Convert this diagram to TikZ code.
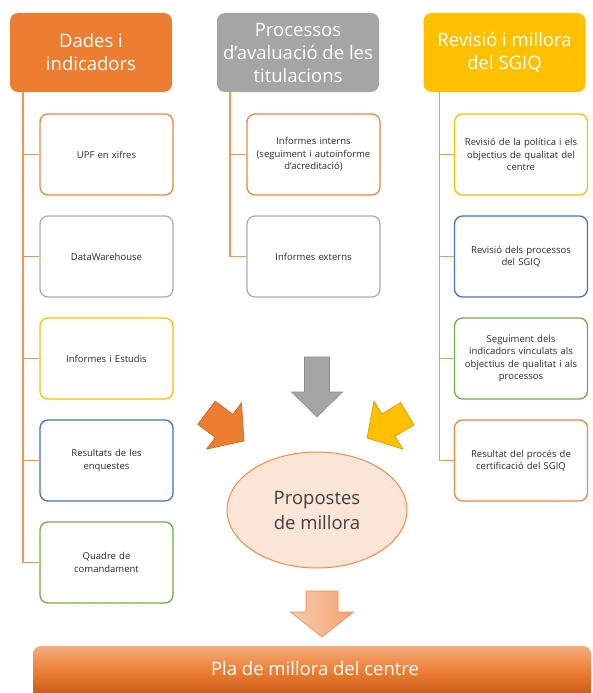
\documentclass[tikz,border=0pt]{standalone}
\usepackage{fontspec}
\setmainfont{Open Sans}
\usepackage{tikz}
\usetikzlibrary{shapes,positioning}
\definecolor{dadesorange}{HTML}{ED7D31}
\definecolor{procgray}{HTML}{A5A5A5}
\definecolor{sgiqyellow}{HTML}{FFC000}
\definecolor{itemorange}{HTML}{EF8444}
\definecolor{itemgray}{HTML}{ADADAD}
\definecolor{itemblue}{HTML}{4472C4}
\definecolor{itemgreen}{HTML}{70AD47}
\definecolor{treeline}{HTML}{F29657}
\definecolor{itemtext}{HTML}{2B2B2B}
\definecolor{darktext}{HTML}{404040}
\definecolor{ellipsefill}{HTML}{FBE5D6}
\definecolor{ellipseline}{HTML}{F08A4B}
\definecolor{arrowlight}{HTML}{F8CBAD}
\definecolor{arrowdark}{HTML}{F4A474}
\definecolor{bartop}{HTML}{F4AC7C}
\definecolor{barbottom}{HTML}{C5591A}
\newcommand{\fatarrow}[6]{\draw[bigarrow,#1,shift={#2},rotate=#3] (0,0) -- (-25,#6) -- (-25,#5) -- (-#4,#5) -- (-#4,-#5) -- (-25,-#5) -- (-25,-#6) -- cycle;}

\begin{document}
\begin{tikzpicture}[
      x=1pt,y=-1pt,
      header/.style={rectangle, rounded corners=8pt, minimum width=162pt, minimum height=79pt, inner sep=0pt, text=white, align=center, font=\fontsize{18.5}{23}\selectfont},
      item/.style={rectangle, rounded corners=8pt, line width=1.3pt, fill=white, minimum width=133pt, minimum height=81pt, inner sep=2pt, text width=127pt, align=center, text=itemtext, font=\fontsize{9.5}{12.5}\selectfont},
      branch/.style={line width=1.6pt, draw=treeline},
      proposta/.style={ellipse, draw=ellipseline, line width=1pt, fill=ellipsefill, minimum width=180pt, minimum height=116pt, inner sep=0pt, align=center, text=darktext, font=\fontsize{18.5}{25}\selectfont},
      bigarrow/.style={line width=0.6pt, line join=miter},
      platext/.style={text=white, font=\fontsize{18.5}{23}\selectfont}
      ]
      \useasboundingbox (0,0) rectangle (593,693);
      % headers
      \node[header, fill=dadesorange] (dades) at (91,52.5) {Dades i\\indicadors};
      \node[header, fill=procgray] (processos) at (298,52.5) {Processos\\d'avaluació de les\\titulacions};
      \node[header, fill=sgiqyellow] (revisio) at (504.5,52.5) {Revisió i millora\\del SGIQ};

      % dades i indicadors
      \node[item, draw=itemorange] (xifres) at (106.5,154.5) {UPF en xifres};
      \node[item, draw=itemgray, below=19.7pt of xifres] (warehouse) {DataWarehouse};
      \node[item, draw=sgiqyellow, below=19.7pt of warehouse] (estudis) {Informes i Estudis};
      \node[item, draw=itemblue, below=19.7pt of estudis] (enquestes) {Resultats de les\\enquestes};
      \node[item, draw=itemgreen, below=19.7pt of enquestes] (quadre) {Quadre de\\comandament};

      % processos d'avaluacio
      \node[item, draw=itemorange] (interns) at (313.5,154.5) {Informes interns\\(seguiment i autoinforme\\d'acreditació)};
      \node[item, draw=itemgray, below=19.7pt of interns] (externs) {Informes externs};

      % revisio i millora
      \node[item, draw=sgiqyellow] (politica) at (521,154.5) {Revisió de la política i els\\objectius de qualitat del\\centre};
      \node[item, draw=itemblue, below=19.7pt of politica] (sgiqproc) {Revisió dels processos\\del SGIQ};
      \node[item, draw=itemgreen, below=19.7pt of sgiqproc] (seguiment) {Seguiment dels\\indicadors vinculats als\\objectius de qualitat i als\\processos};
      \node[item, draw=itemorange, below=19.7pt of seguiment] (certificacio) {Resultat del procés de\\certificació del SGIQ};

      \draw[branch] ([xshift=13pt]dades.south west) |- (xifres.west);
      \draw[branch] ([xshift=13pt]dades.south west) |- (warehouse.west);
      \draw[branch] ([xshift=13pt]dades.south west) |- (estudis.west);
      \draw[branch] ([xshift=13pt]dades.south west) |- (enquestes.west);
      \draw[branch] ([xshift=13pt]dades.south west) |- (quadre.west);
      \draw[branch] ([xshift=13pt]processos.south west) |- (interns.west);
      \draw[branch] ([xshift=13pt]processos.south west) |- (externs.west);
      \draw[branch] ([xshift=16pt]revisio.south west) |- (politica.west);
      \draw[branch] ([xshift=16pt]revisio.south west) |- (sgiqproc.west);
      \draw[branch] ([xshift=16pt]revisio.south west) |- (seguiment.west);
      \draw[branch] ([xshift=16pt]revisio.south west) |- (certificacio.west);

      % propostes
      \node[proposta] (propostes) at (317,510) {Propostes\\de millora};
      \fatarrow{fill=procgray, draw=procgray!85!black}{(317,417)}{-90}{60}{12.5}{25.5}
      \fatarrow{fill=dadesorange, draw=dadesorange!80!black}{(244,441)}{-37}{47}{14.5}{29}
      \fatarrow{fill=sgiqyellow, draw=sgiqyellow!80!black}{(367,438)}{211}{47}{13}{28}
      \fatarrow{left color=arrowlight, right color=arrowdark, draw=ellipseline}{(322,637)}{-90}{46}{16}{31.5}

      % pla de millora
      \shade[top color=bartop, bottom color=barbottom, middle color=dadesorange] (33,697) [rounded corners=8pt] -- (33,646) -- (591,646) [sharp corners] -- (591,697) -- cycle;
      \node[platext] (pla) at (315,669) {Pla de millora del centre};
    \end{tikzpicture}
\end{document}
